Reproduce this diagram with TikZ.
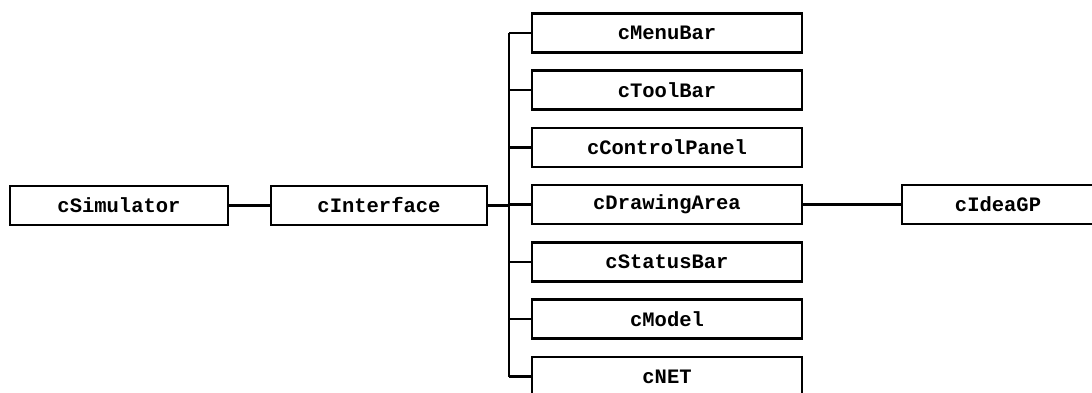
\documentclass[tikz,border=0pt]{standalone}
\usepackage{fontspec}
\setmonofont{Liberation Mono}
\begin{document}
\begin{tikzpicture}[x=1pt,y=-1pt,
  cls/.style={draw=black,line width=2.6pt,fill=white,rectangle,minimum height=39pt,inner sep=0pt,
    font=\fontsize{20.5}{24}\selectfont\ttfamily\bfseries},
  link/.style={draw=black,line width=2.4pt}]
\useasboundingbox (0,0) rectangle (1092,392);
\node[cls,minimum width=218pt] (sim) at (119,205.5) {cSimulator};
\node[cls,minimum width=216pt] (intf) at (379,205.5) {cInterface};
\node[cls,minimum width=270pt] (menu) at (667,32.7) {cMenuBar};
\node[cls,minimum width=270pt] (tool) at (667,90) {cToolBar};
\node[cls,minimum width=270pt] (ctrl) at (667,147.3) {cControlPanel};
\node[cls,minimum width=270pt] (draw) at (667,204.6) {cDrawingArea};
\node[cls,minimum width=270pt] (stat) at (667,261.9) {cStatusBar};
\node[cls,minimum width=270pt] (model) at (667,319.2) {cModel};
\node[cls,minimum width=270pt] (net) at (667,376.5) {cNET};
\node[cls,minimum width=192pt] (idea) at (998,204.6) {cIdeaGP};
\coordinate (bt) at (509,32.7);
\coordinate (bb) at (509,376.5);
\draw[link] (bt) -- (bb);
\draw[link] (sim.east) -- (intf.west);
\draw[link] (intf.east) -- (intf.east -| bt);
\foreach \n in {menu,tool,ctrl,draw,stat,model,net}{
  \draw[link] (\n.west -| bt) -- (\n.west);
}
\draw[link] (draw.east) -- (idea.west);
\end{tikzpicture}
\end{document}
